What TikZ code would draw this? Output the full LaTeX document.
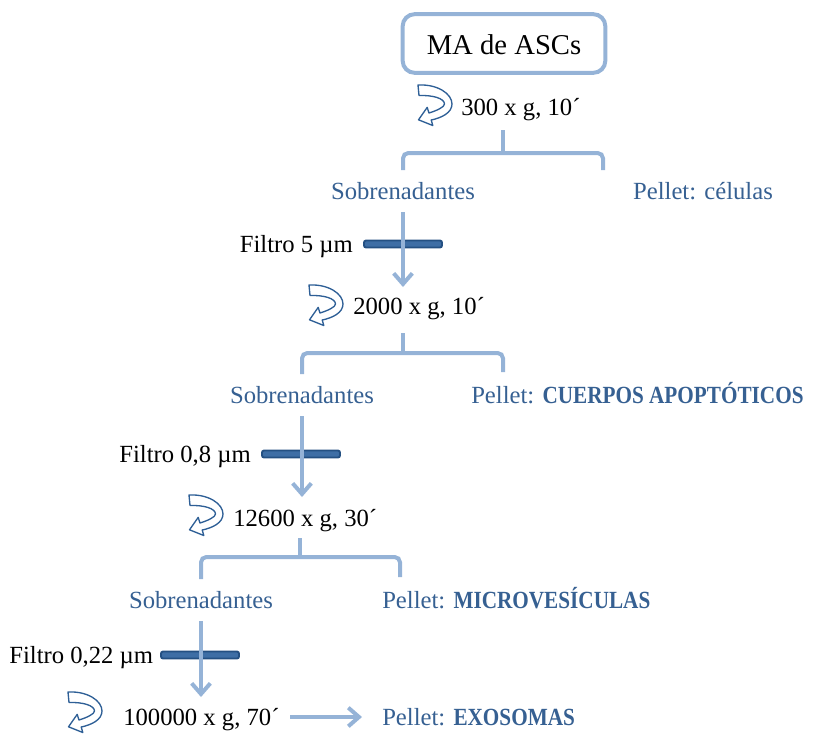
\documentclass[tikz,border=0pt]{standalone}
\usepackage{fontspec}
\setmainfont{Liberation Serif}
\newfontfamily\capsbf[FakeStretch=0.86]{Liberation Serif}
\usepackage{tikz}
\usetikzlibrary{arrows.meta,positioning}

\definecolor{lineblue}{RGB}{149,179,215}
\definecolor{txtblue}{RGB}{54,96,146}
\definecolor{bardark}{RGB}{36,80,130}
\definecolor{barmid}{RGB}{62,110,165}
\definecolor{rotblue}{RGB}{46,95,150}

\tikzset{
  centri/.pic={
    \draw[rotblue, fill=white, line width=1pt, line join=round]
      (0,0) .. controls (20,-1) and (34,9) .. (34,19)
      .. controls (34,28) and (23,33) .. (13.2,35)
      -- (14.8,40.5) -- (0.5,34.8) -- (9.2,22.4) -- (11,28)
      .. controls (19,25.5) and (26.5,22) .. (26.5,19)
      .. controls (26.5,13.5) and (15,10) .. (1,10.5) -- cycle;
  }
}

\begin{document}
\begin{tikzpicture}[x=0.75pt, y=-0.75pt,
  every node/.style={font=\fontsize{18.5}{22}\selectfont, inner sep=0pt, text height=15pt, text depth=3pt},
  mabox/.style={draw=lineblue, line width=3pt, rounded corners=9pt, minimum width=152pt, minimum height=44pt,
    font=\fontsize{21.5}{26}\selectfont, text height=18pt, text depth=1pt},
  sob/.style={text=txtblue, outer sep=6.75pt},
  pel/.style={text=txtblue},
  branch/.style={draw=lineblue, line width=3pt, rounded corners=4pt},
  flow/.style={draw=lineblue, line width=3pt, -{Straight Barb[length=8pt, width=14pt]}},
  filterbar/.style={draw=bardark, fill=barmid, line width=1.4pt, rounded corners=1.5pt,
    minimum width=58.5pt, minimum height=5.2pt, text height={}, text depth={}}
]
\useasboundingbox (0,0) rectangle (815,736);

% ---- start ----
\node[mabox] (ma) at (504,43.5) {MA de ASCs};

% ---- 300 x g ----
\pic at (418,85) {centri};
\node[anchor=west] (spinA) at (461,107) {300 x g, 10´};
\coordinate (stemA) at (503,130);
\coordinate (forkA) at (503,153);
\coordinate (endA) at (603,170);
\node[sob] (sobA) at (403,191) {Sobrenadantes};
\node[pel] (pelA) at (703,191) {Pellet: células};
\draw[branch] (stemA) -- (forkA);
\draw[branch] (sobA.north) |- (forkA) -| (endA);

% ---- filtro 5 ----
\node[filterbar] (barA) at (403,244) {};
\node[left=7.5pt of barA] (filA) {Filtro 5 µm};
\coordinate (tipA) at (403,287);
\draw[flow] (sobA.south) -- (tipA);

% ---- 2000 x g ----
\pic at (309,285) {centri};
\node[anchor=west] (spinB) at (353,306) {2000 x g, 10´};
\coordinate (stemB) at (403,333);
\coordinate (forkB) at (403,353);
\coordinate (endB) at (503,372);
\node[sob] (sobB) at (302,395) {Sobrenadantes};
\node[pel, anchor=west] (pelB) at (471,395) {Pellet: {\capsbf\bfseries CUERPOS APOPTÓTICOS}};
\draw[branch] (stemB) -- (forkB);
\draw[branch] (sobB.north) |- (forkB) -| (endB);

% ---- filtro 0,8 ----
\node[filterbar] (barB) at (301,454) {};
\node[left=7.5pt of barB] (filB) {Filtro 0,8 µm};
\coordinate (tipB) at (302,497);
\draw[flow] (sobB.south) -- (tipB);

% ---- 12600 x g ----
\pic at (189,495) {centri};
\node[anchor=west] (spinC) at (233,518) {12600 x g, 30´};
\coordinate (stemC) at (300,538);
\coordinate (forkC) at (300,557);
\coordinate (endC) at (400,577);
\node[sob] (sobC) at (201,600) {Sobrenadantes};
\node[pel, anchor=west] (pelC) at (382,600) {Pellet: {\capsbf\bfseries MICROVESÍCULAS}};
\draw[branch] (stemC) -- (forkC);
\draw[branch] (sobC.north) |- (forkC) -| (endC);

% ---- filtro 0,22 ----
\node[filterbar] (barC) at (200,655) {};
\node[left=5pt of barC] (filC) {Filtro 0,22 µm};
\coordinate (tipC) at (201,697);
\draw[flow] (sobC.south) -- (tipC);

% ---- 100000 x g ----
\pic at (68,692) {centri};
\node[anchor=west] (spinD) at (123,717) {100000 x g, 70´};
\node[pel, anchor=west] (pelD) at (382,717) {Pellet: {\capsbf\bfseries EXOSOMAS}};
\draw[flow, shorten <=8pt, shorten >=15pt] (spinD) -- (pelD);
\end{tikzpicture}
\end{document}
